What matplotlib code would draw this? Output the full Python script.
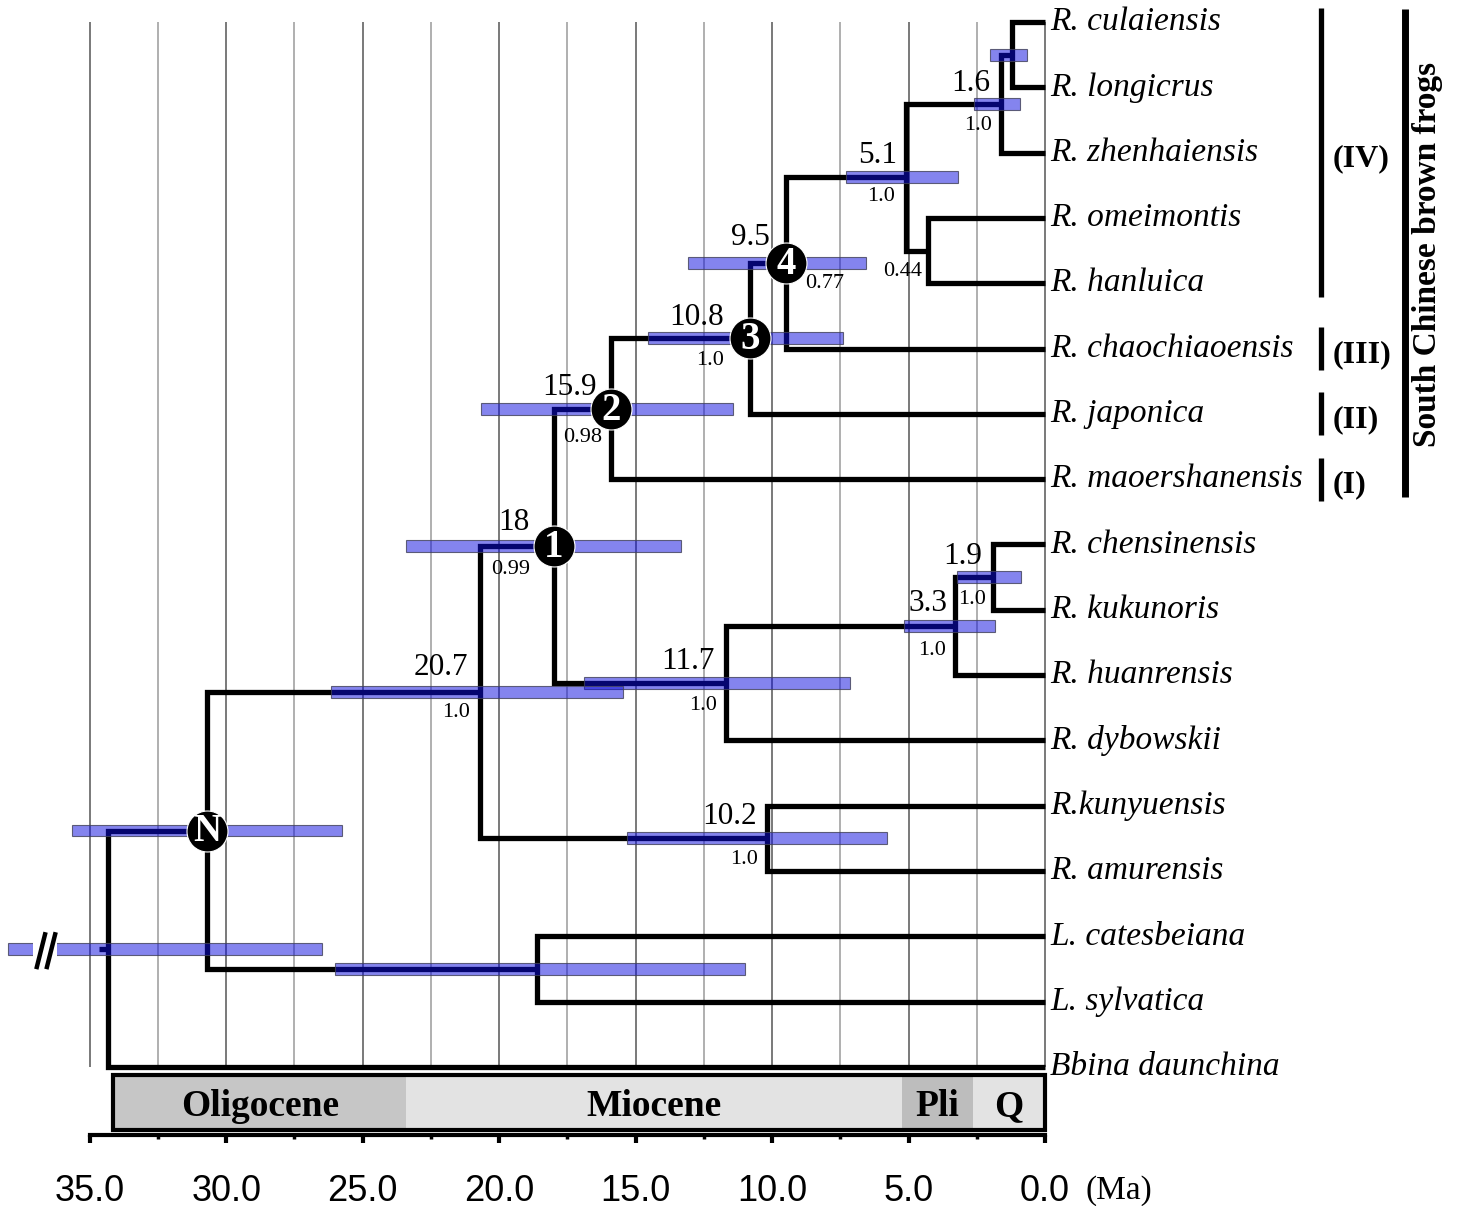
import matplotlib
matplotlib.use("Agg")
import matplotlib.pyplot as plt
from matplotlib.patches import Rectangle
from matplotlib.ticker import FixedLocator

# ---------------- data ----------------
tips = ["R. culaiensis", "R. longicrus", "R. zhenhaiensis", "R. omeimontis",
        "R. hanluica", "R. chaochiaoensis", "R. japonica", "R. maoershanensis",
        "R. chensinensis", "R. kukunoris", "R. huanrensis", "R. dybowskii",
        "R.kunyuensis", "R. amurensis", "L. catesbeiana", "L. sylvatica",
        "Bbina daunchina"]

node_ids = ["a", "b", "c", "d", "e", "f", "g", "h", "i", "j", "k", "l", "m", "n", "N", "root"]
node_child1 = ["R. culaiensis", "a", "R. omeimontis", "b", "d", "e", "f",
               "R. chensinensis", "h", "i", "g", "R.kunyuensis", "k",
               "L. catesbeiana", "m", "N"]
node_child2 = ["R. longicrus", "R. zhenhaiensis", "R. hanluica", "c",
               "R. chaochiaoensis", "R. japonica", "R. maoershanensis",
               "R. kukunoris", "R. huanrensis", "R. dybowskii", "j",
               "R. amurensis", "l", "L. sylvatica", "n", "Bbina daunchina"]
node_age = [1.2, 1.6, 4.3, 5.1, 9.5, 10.8, 15.9, 1.9, 3.3, 11.7, 18.0, 10.2, 20.7, 18.6, 30.7, 34.35]
hpd_low = [0.65, 0.9, None, 3.2, 6.55, 7.4, 11.45, 0.88, 1.83, 7.15, 13.35, 5.8, 15.45, 11.0, 25.75, 26.5]
hpd_high = [2.0, 2.6, None, 7.3, 13.1, 14.55, 20.65, 3.22, 5.17, 16.9, 23.4, 15.3, 26.15, 26.0, 35.65, 38.0]
age_text = ["", "1.6", "", "5.1", "9.5", "10.8", "15.9", "1.9", "3.3", "11.7", "18", "10.2", "20.7", "", "", ""]
post_text = ["", "1.0", "0.44", "1.0", "0.77", "1.0", "0.98", "1.0", "1.0", "1.0", "0.99", "1.0", "1.0", "", "", ""]
circle_text = ["", "", "", "", "4", "3", "2", "", "", "", "1", "", "", "", "N", ""]

epoch_names = ["Oligocene", "Miocene", "Pli", "Q"]
epoch_start = [34.15, 23.4, 5.25, 2.65]
epoch_end = [23.4, 5.25, 2.65, 0.0]

clade_labels = ["(IV)", "(III)", "(II)", "(I)"]
clade_first = [0, 5, 6, 7]
clade_last = [4, 5, 6, 7]
group_label = "South Chinese brown frogs"

major_ticks = [35, 30, 25, 20, 15, 10, 5, 0]
major_labels = ["35.0", "30.0", "25.0", "20.0", "15.0", "10.0", "5.0", "0.0"]
minor_ticks = [32.5, 27.5, 22.5, 17.5, 12.5, 7.5, 2.5]
grid_ages = [35 - 2.5 * k for k in range(15)]

# ---------------- layout / style ----------------
SERIF = "Liberation Serif"
SANS = "Liberation Sans"
age_off = {"b": (-11, 6), "d": (-9, 7), "e": (-16, 11), "f": (-26, 6), "g": (-14, 7),
           "h": (-11, 6), "i": (-8, 8), "j": (-11, 7), "k": (-24, 9), "l": (-10, 7), "m": (-12, 10)}
post_off = {"b": (-9, -12, "right"), "c": (-6, -11, "right"), "d": (-11, -10, "right"),
            "e": (19, -11, "left"), "f": (-26, -13, "right"), "g": (-9, -19, "right"),
            "h": (-7, -13, "right"), "i": (-9, -15, "right"), "j": (-9, -13, "right"),
            "k": (-24, -14, "right"), "l": (-9, -12, "right"), "m": (-10, -11, "right")}
epoch_colors = ["#c6c6c6", "#e3e3e3", "#bdbdbd", "#e3e3e3"]

fig = plt.figure(figsize=(14.61, 12.06), dpi=100)
ax = fig.add_axes([0, 0, 1, 1])
ax.set_xlim(38.29, -15.24)
ax.set_ylim(18.13, -0.337)

# positions
ypos = {t: i for i, t in enumerate(tips)}
xpos = {t: 0.0 for t in tips}
for nid, c1, c2, age in zip(node_ids, node_child1, node_child2, node_age):
    ypos[nid] = (ypos[c1] + ypos[c2]) / 2.0
    xpos[nid] = age

# gridlines
for k, g in enumerate(grid_ages):
    col = "#555555" if k % 2 == 0 else "#9a9a9a"
    ax.vlines(g, 0, len(tips) - 1, colors=col, lw=1.1, zorder=1)

# tree
LW = 3.8
for nid, c1, c2, age in zip(node_ids, node_child1, node_child2, node_age):
    ax.plot([xpos[c1], age, age, xpos[c2]], [ypos[c1], ypos[c1], ypos[c2], ypos[c2]],
            color="black", lw=LW, solid_joinstyle="miter", solid_capstyle="butt", zorder=2)
# root stem
ax.plot([xpos["root"], xpos["root"] + 0.3], [ypos["root"], ypos["root"]],
        color="black", lw=LW, solid_capstyle="butt", zorder=2)

# HPD bars
for nid, lo, hi in zip(node_ids, hpd_low, hpd_high):
    if lo is None:
        continue
    ax.barh(ypos[nid], hi - lo, left=lo, height=0.18,
            facecolor=(0.04, 0.04, 0.87, 0.5), edgecolor=(0.25, 0.25, 0.35, 0.8),
            linewidth=0.8, zorder=3)

# root bar break
ry = ypos["root"]
ax.add_patch(Rectangle((36.2, ry - 0.15), 0.88, 0.3, facecolor="white", edgecolor="none", zorder=4))
for xs in (36.94, 36.57):
    ax.plot([xs, xs - 0.3], [ry + 0.28, ry - 0.22], color="black", lw=3.2, zorder=5)

# circles
for nid, ct in zip(node_ids, circle_text):
    if ct:
        ax.plot(xpos[nid], ypos[nid], "o", ms=29.5, color="black", mec="white", mew=0.8, zorder=6)
        ax.text(xpos[nid], ypos[nid] + 0.02, ct, color="white", fontsize=28, fontweight="bold",
                family=SERIF, ha="center", va="center", zorder=7)

# age and posterior labels
for nid, at, pt in zip(node_ids, age_text, post_text):
    if at:
        dx, dy = age_off[nid]
        ax.annotate(at, (xpos[nid], ypos[nid]), xytext=(dx, dy), textcoords="offset pixels",
                    ha="right", va="bottom", fontsize=22.5, family=SERIF, zorder=8)
    if pt:
        dx, dy, ha = post_off[nid]
        ax.annotate(pt, (xpos[nid], ypos[nid]), xytext=(dx, dy), textcoords="offset pixels",
                    ha=ha, va="top", fontsize=16, family=SERIF, zorder=8)

# tip labels
for t in tips:
    ax.text(-0.18, ypos[t], t, ha="left", va="center", fontsize=24,
            family=SERIF, style="italic")

# geological time scale
ty0, ty1 = 16.13, 16.97
for name, s, e, col in zip(epoch_names, epoch_start, epoch_end, epoch_colors):
    ax.add_patch(Rectangle((e, ty0), s - e, ty1 - ty0, facecolor=col, edgecolor="none", zorder=1))
    ax.text((s + e) / 2, (ty0 + ty1) / 2 + 0.06, name, ha="center", va="center",
            fontsize=27, fontweight="bold", family=SERIF, zorder=2)
ax.add_patch(Rectangle((epoch_end[-1], ty0), epoch_start[0] - epoch_end[-1], ty1 - ty0,
                       facecolor="none", edgecolor="black", lw=3.0, zorder=3))

# clade brackets
xc = -10.11
for lab, f, l in zip(clade_labels, clade_first, clade_last):
    ext = 0.21 if f != l else 0.33
    ax.plot([xc, xc], [f - ext, l + ext], color="black", lw=3.8, solid_capstyle="butt")
    ax.text(-10.55, (f + l) / 2 + 0.09, lab, ha="left", va="center", fontsize=23,
            fontweight="bold", family=SERIF)
ax.plot([-13.19, -13.19], [clade_first[0] - 0.2, clade_last[-1] + 0.28], color="black",
        lw=5.0, solid_capstyle="butt")
ax.text(-14.0, (clade_first[0] + clade_last[-1]) / 2 + 0.06, group_label, rotation=90,
        ha="center", va="center", fontsize=24, fontweight="bold", family=SERIF)

# time axis
for sp in ["left", "right", "top"]:
    ax.spines[sp].set_visible(False)
ax.spines["bottom"].set_position(("data", 17.04))
ax.spines["bottom"].set_bounds(0, 35)
ax.spines["bottom"].set_linewidth(3.0)
ax.spines["bottom"].set_zorder(4)
ax.set_xticks(major_ticks, major_labels)
ax.xaxis.set_minor_locator(FixedLocator(minor_ticks))
ax.tick_params(axis="x", which="major", direction="out", length=6, width=3.0, pad=22,
               labelsize=26)
ax.tick_params(axis="x", which="minor", direction="out", length=3, width=2.5)
for lbl in ax.get_xticklabels():
    lbl.set_family(SANS)
ax.set_yticks([])
ax.text(-1.47, 17.04 + 56 / 65.3, "(Ma)", ha="left", va="center", fontsize=24, family=SERIF)

fig.savefig("out.png", dpi=100)
